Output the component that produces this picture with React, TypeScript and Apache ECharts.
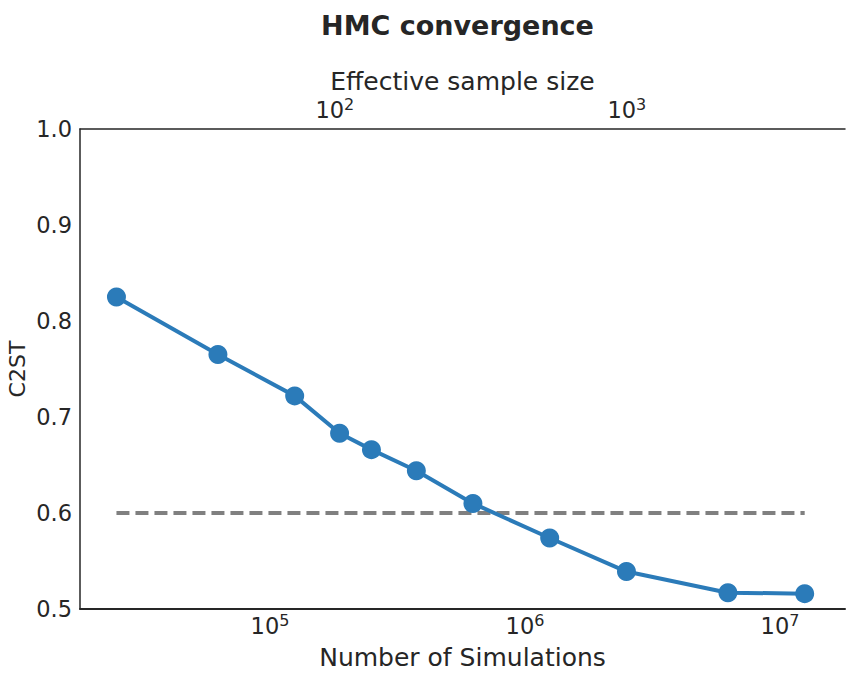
import React, { useEffect, useRef } from "react";
import * as echarts from "echarts";

const simulations = [25000, 62500, 125000, 187500, 250000, 375000, 625000, 1250000, 2500000, 6250000, 12500000];
const c2st = [0.825, 0.765, 0.722, 0.683, 0.666, 0.644, 0.61, 0.574, 0.539, 0.517, 0.516];
const referenceLevel = 0.6;
const yTicks = [0.5, 0.6, 0.7, 0.8, 0.9, 1.0];

const FONT = "DejaVu Sans";
const TXT = "#262626";

function powLabel(val: number) {
  const e = Math.log10(val);
  const r = Math.round(e);
  if (Math.abs(e - r) > 1e-6) return "";
  return `{b|10}{s|${r}}`;
}

const richPow = {
  b: { fontFamily: FONT, fontSize: 22.5, color: TXT },
  s: { fontFamily: FONT, fontSize: 16, color: TXT, padding: [0, 0, 12, 0] },
};

export default function App() {
  const ref = useRef<HTMLDivElement>(null);
  useEffect(() => {
    if (!ref.current) return;
    const chart = echarts.init(ref.current, undefined, { renderer: "svg" });
    chart.setOption({
      animation: false,
      backgroundColor: "#ffffff",
      title: {
        text: "HMC convergence",
        left: 452.5,
        textAlign: "center",
        top: 6.5,
        textStyle: { fontFamily: FONT, fontSize: 27, fontWeight: "bold", color: TXT },
      },
      grid: {
        left: 80,
        right: 10,
        top: 129,
        bottom: 67,
        containLabel: false,
        outerBoundsMode: "none",
      },
      xAxis: [
        {
          type: "log",
          logBase: 10,
          min: Math.pow(10, 4.255),
          max: Math.pow(10, 7.255),
          position: "bottom",
          name: "Number of Simulations",
          nameLocation: "middle",
          nameGap: 36,
          nameMoveOverlap: false,
          nameTextStyle: { fontFamily: FONT, fontSize: 25, color: TXT },
          axisLine: { show: true, lineStyle: { color: "#262626", width: 2 } },
          axisTick: { show: false },
          splitLine: { show: false },
          minorTick: { show: false },
          axisLabel: {
            formatter: powLabel,
            rich: richPow,
            margin: 3,
            showMinLabel: false,
            showMaxLabel: false,
          },
        },
        {
          type: "log",
          logBase: 10,
          min: Math.pow(10, 1.127),
          max: Math.pow(10, 3.747),
          position: "top",
          name: "Effective sample size",
          nameLocation: "middle",
          nameGap: 34.5,
          nameMoveOverlap: false,
          nameTextStyle: { fontFamily: FONT, fontSize: 25, color: TXT, lineHeight: 26 },
          axisLine: { show: true, lineStyle: { color: "#262626", width: 1.5 } },
          axisTick: { show: false },
          splitLine: { show: false },
          axisLabel: {
            formatter: powLabel,
            rich: richPow,
            margin: 5,
            showMinLabel: false,
            showMaxLabel: false,
          },
        },
      ],
      yAxis: {
        type: "value",
        min: yTicks[0],
        max: yTicks[yTicks.length - 1],
        interval: 0.1,
        name: "C2ST",
        nameLocation: "middle",
        nameGap: 52,
        nameMoveOverlap: false,
        nameTextStyle: { fontFamily: FONT, fontSize: 22, color: TXT },
        axisLine: { show: true, lineStyle: { color: "#262626", width: 1.5 } },
        axisTick: { show: false },
        splitLine: { show: false },
        axisLabel: {
          fontFamily: FONT,
          fontSize: 22.5,
          color: TXT,
          margin: 8,
          formatter: (v: number) => v.toFixed(1),
        },
      },
      series: [
        {
          type: "line",
          xAxisIndex: 0,
          data: [
            [simulations[0], referenceLevel],
            [simulations[simulations.length - 1], referenceLevel],
          ],
          symbol: "none",
          lineStyle: { color: "#808080", width: 3.8, type: [13, 6] },
          silent: true,
        },
        {
          type: "line",
          xAxisIndex: 0,
          data: simulations.map((s, i) => [s, c2st[i]]),
          symbol: "circle",
          symbolSize: 19,
          itemStyle: { color: "#2b7bb9" },
          lineStyle: { color: "#2b7bb9", width: 4 },
        },
      ],
    });
    return () => chart.dispose();
  }, []);
  return (
    <div
      ref={ref}
      style={{ position: "absolute", left: 0, top: 0, width: 855, height: 676 }}
    />
  );
}
